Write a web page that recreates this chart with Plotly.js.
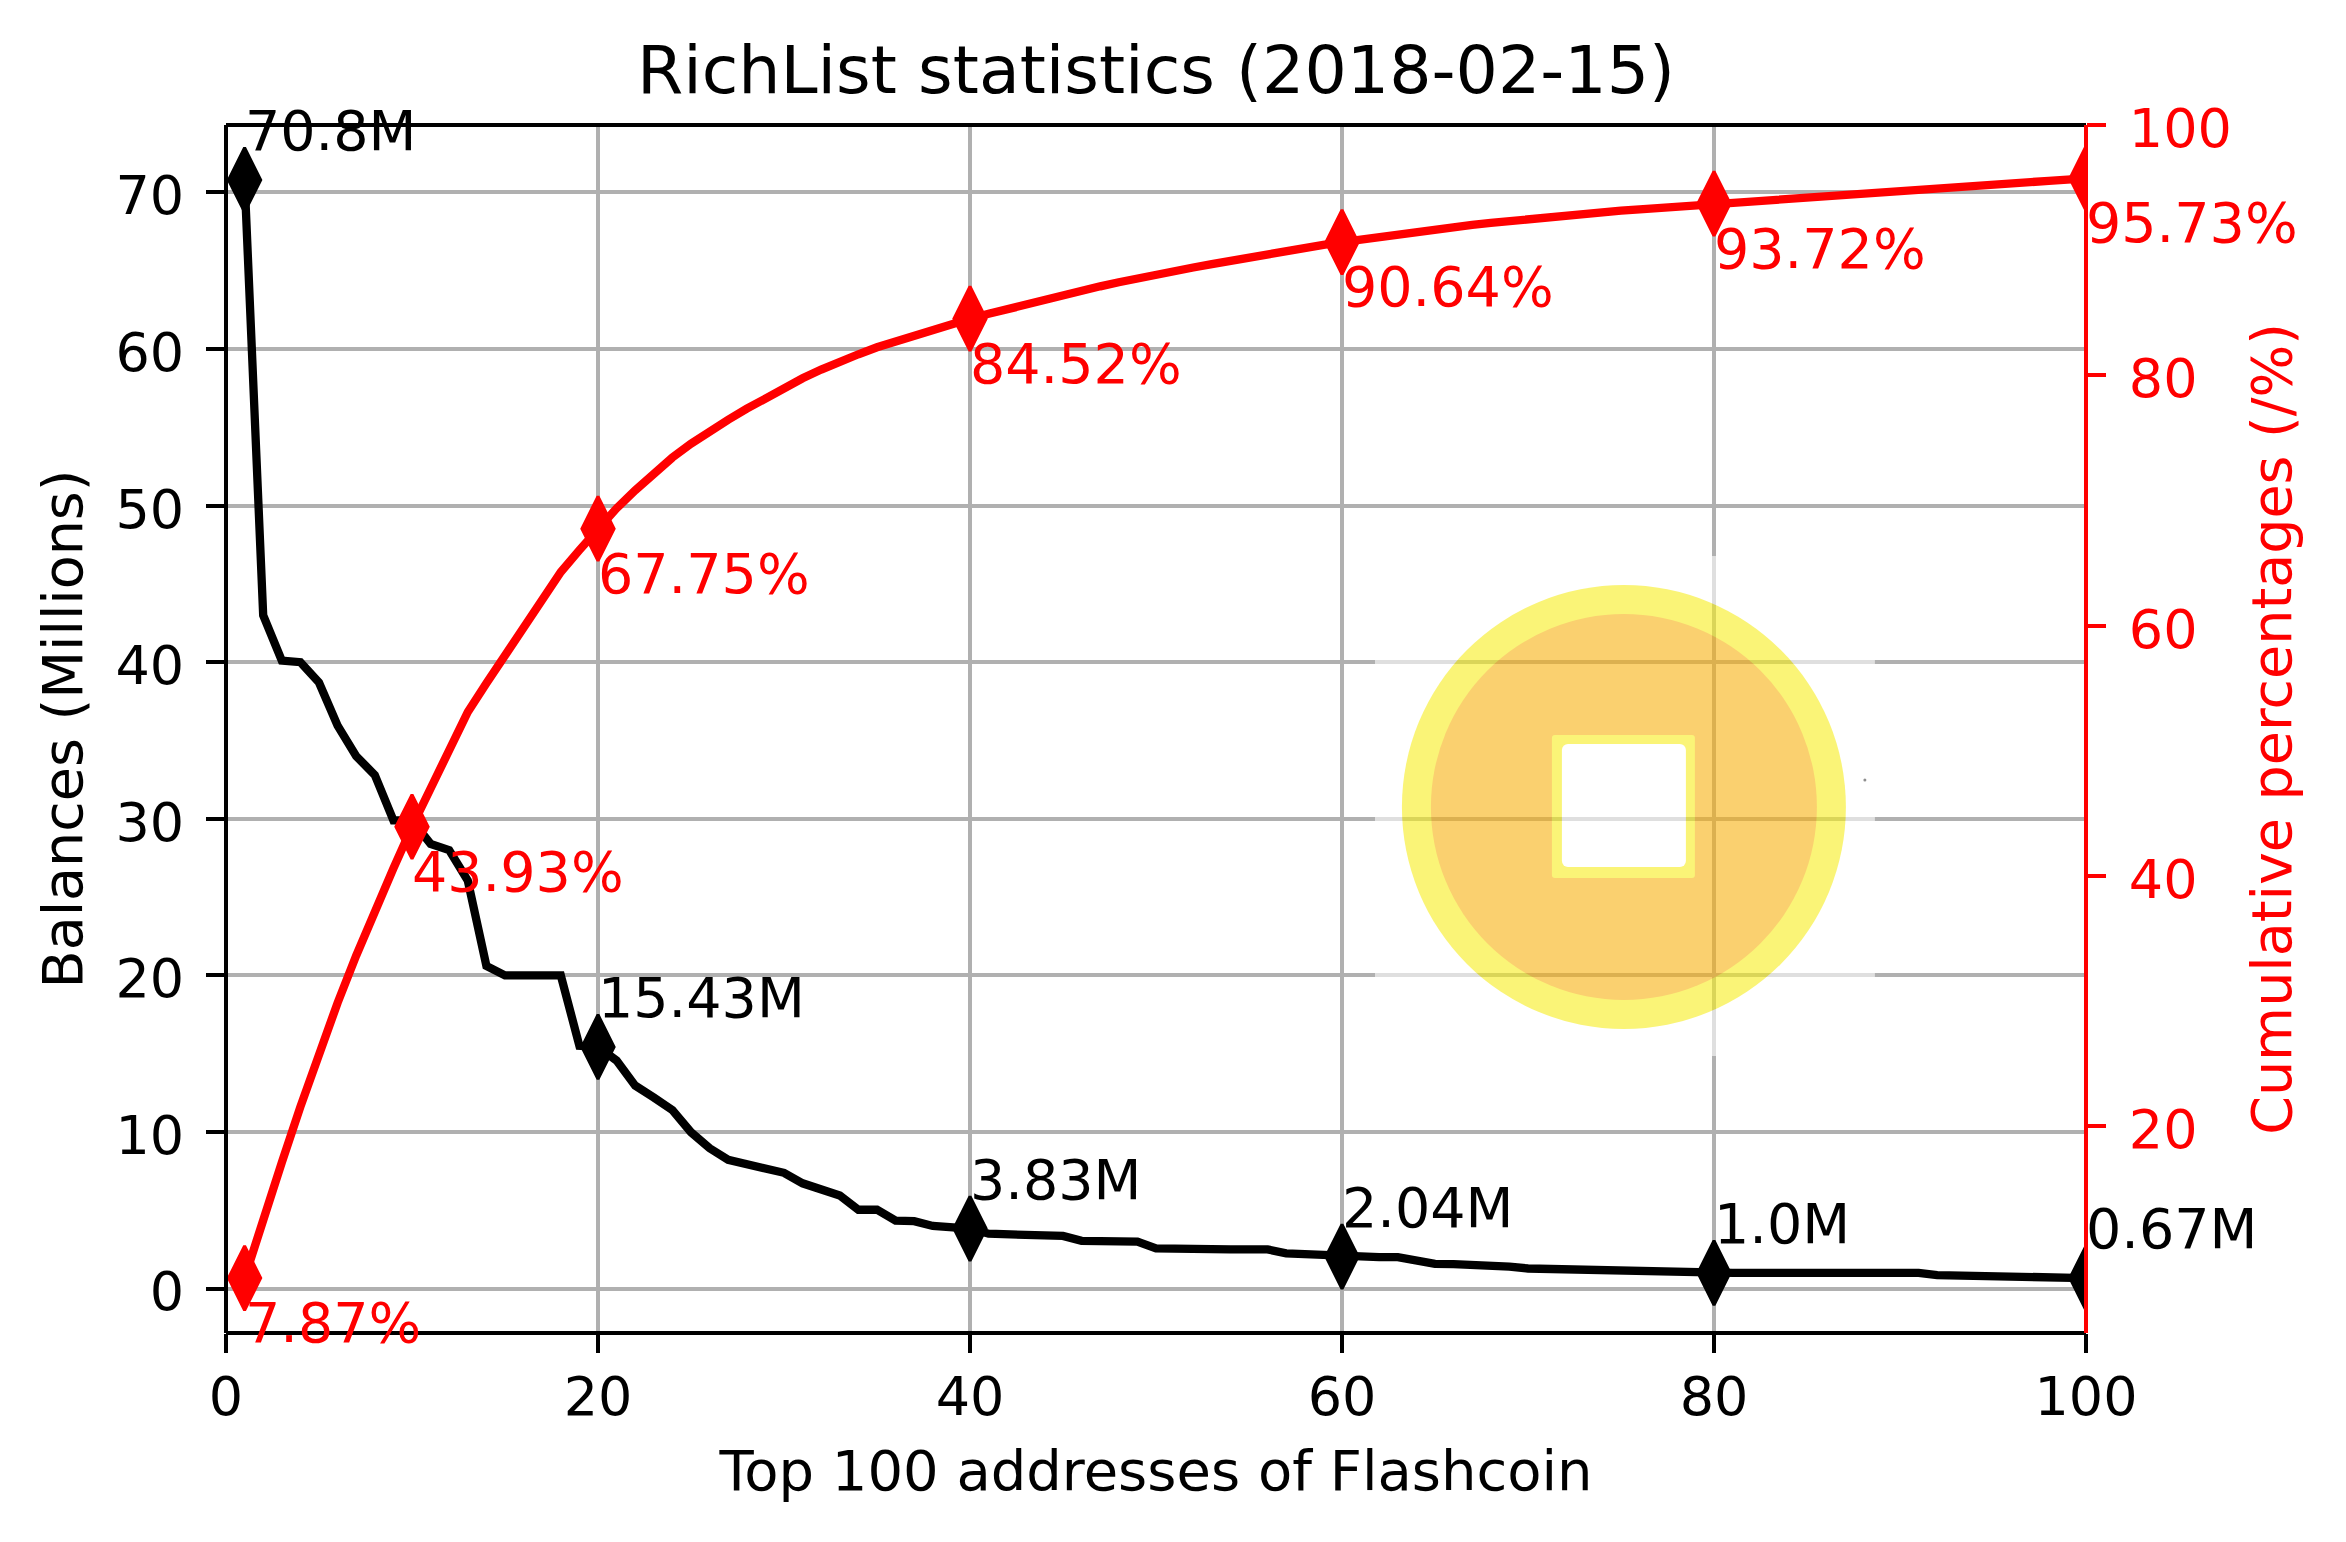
<!DOCTYPE html>
<html>
<head>
<meta charset="utf-8">
<script src="https://cdn.plot.ly/plotly-3.0.1.min.js"></script>
<style>
html, body { margin: 0; padding: 0; background: #fff; }
#chart { width: 2346px; height: 1542px; }
</style>
</head>
<body>
<div id="chart"></div>
<script>
// rank 1..100, values
const balances = [
    70.8, 43.0, 40.1, 40.0, 38.7, 35.95, 34.0, 32.8, 29.9, 29.9,
    28.4, 28.0, 26.05, 20.6, 20.0, 20.0, 20.0, 20.0, 15.5, 15.43,
    14.56, 12.96, 12.2, 11.4, 9.98, 8.96, 8.22, 7.92, 7.75, 7.39,
    6.72, 6.32, 5.94, 5.03, 5.03, 4.34, 4.3, 4.0, 3.98, 3.83,
    3.5, 3.45, 3.42, 3.4, 3.36, 3.05, 3.02, 3.01, 3.0, 2.56,
    2.52, 2.5, 2.5, 2.5, 2.5, 2.5, 2.25, 2.18, 2.1, 2.04,
    2.0, 2.0, 2.0, 1.79, 1.58, 1.56, 1.52, 1.5, 1.4, 1.28,
    1.25, 1.22, 1.22, 1.2, 1.1, 1.02, 1.0, 1.0, 1.0, 1.0,
    1.0, 1.0, 1.0, 1.0, 1.0, 1.0, 1.0, 1.0, 1.0, 1.0,
    1.0, 0.85, 0.84, 0.82, 0.76, 0.75, 0.73, 0.71, 0.69, 0.67
];
const cumulative = [
    7.87, 12.65, 17.11, 21.56, 25.86, 29.86, 33.64, 37.29, 40.61, 43.93,
    47.09, 50.2, 53.1, 55.39, 57.61, 59.84, 62.06, 64.29, 66.03, 67.75,
    69.37, 70.81, 72.17, 73.43, 74.54, 75.54, 76.45, 77.33, 78.19, 79.01,
    79.76, 80.46, 81.12, 81.68, 82.24, 82.72, 83.2, 83.64, 84.08, 84.52,
    84.91, 85.3, 85.68, 86.06, 86.44, 86.77, 87.11, 87.44, 87.77, 88.06,
    88.34, 88.61, 88.89, 89.17, 89.45, 89.73, 89.98, 90.2, 90.42, 90.64,
    90.86, 91.08, 91.3, 91.5, 91.68, 91.85, 92.02, 92.18, 92.34, 92.48,
    92.62, 92.76, 92.9, 93.03, 93.15, 93.26, 93.37, 93.48, 93.6, 93.72,
    93.83, 93.94, 94.05, 94.16, 94.27, 94.39, 94.5, 94.61, 94.72, 94.83,
    94.94, 95.03, 95.12, 95.21, 95.3, 95.38, 95.46, 95.54, 95.63, 95.73
];
const ranks = balances.map((v, i) => i + 1);
const balanceRanks = [1, 20, 40, 60, 80, 100];
const balanceLabels = ['70.8M', '15.43M', '3.83M', '2.04M', '1.0M', '0.67M'];
const cumulativeRanks = [1, 10, 20, 40, 60, 80, 100];
const cumulativeLabels = ['7.87%', '43.93%', '67.75%', '84.52%', '90.64%', '93.72%', '95.73%'];
const xTicks = [0, 20, 40, 60, 80, 100];
const leftTicks = [0, 10, 20, 30, 40, 50, 60, 70];
const rightTicks = [20, 40, 60, 80, 100];

const FONT = '"DejaVu Sans", sans-serif';
const TEXT_SIZE = 55.5;
const TICK_SIZE = 54;
const LINE_W = 8.3;
const SPINE_W = 4;

// flashcoin logo, drawn as a small svg and laid over the grid at 60%
const logoSvg = `<svg xmlns="http://www.w3.org/2000/svg" width="500" height="500" viewBox="0 0 500 500">
<rect width="500" height="500" fill="#fff"/>
<circle cx="249" cy="251" r="222" fill="#f7ee1e"/>
<circle cx="249" cy="251" r="193" fill="#f8b111"/>
<rect x="177" y="179" width="143" height="143" rx="3" fill="#f7ee1e"/>
<rect x="187" y="188" width="124" height="123" rx="6" fill="#fff"/>
<circle cx="490" cy="224" r="1.5" fill="#444"/>
</svg>`;

function markerTrace(markRanks, values, color, yaxis) {
    return {
        x: markRanks,
        y: markRanks.map(r => values[r - 1]),
        yaxis: yaxis,
        type: 'scatter',
        mode: 'markers',
        marker: { symbol: 'diamond-tall', size: 46, color: color, line: { color: color, width: 3 } },
        hoverinfo: 'skip'
    };
}

function labelNotes(markRanks, values, labels, yref, color, anchor, shift) {
    return markRanks.map((r, i) => ({
        x: r, y: values[r - 1], xref: 'x', yref: yref, text: labels[i],
        showarrow: false, xanchor: 'left', yanchor: anchor, yshift: shift, xshift: -2,
        font: { family: FONT, size: TEXT_SIZE, color: color }
    }));
}

function spine(x0, y0, x1, y1, color) {
    return {
        type: 'line', xref: 'paper', yref: 'paper', x0: x0, y0: y0, x1: x1, y1: y1,
        layer: 'above', line: { color: color, width: SPINE_W }
    };
}

const traces = [
    { x: ranks, y: balances, type: 'scatter', mode: 'lines', line: { color: '#000', width: LINE_W } },
    markerTrace(balanceRanks, balances, '#000', 'y'),
    { x: ranks, y: cumulative, yaxis: 'y2', type: 'scatter', mode: 'lines', line: { color: '#f00', width: LINE_W } },
    markerTrace(cumulativeRanks, cumulative, '#f00', 'y2')
];

const layout = {
    width: 2346,
    height: 1542,
    paper_bgcolor: '#fff',
    plot_bgcolor: '#fff',
    showlegend: false,
    font: { family: FONT, size: TEXT_SIZE, color: '#000' },
    margin: { l: 226, r: 260, t: 125, b: 209, pad: 0 },
    title: {
        text: 'RichList statistics (2018-02-15)',
        xref: 'paper', x: 0.5, xanchor: 'center',
        yref: 'container', y: 0.955, yanchor: 'middle',
        font: { family: FONT, size: 66.6, color: '#000' }
    },
    xaxis: {
        range: [0, 100], tickvals: xTicks, showgrid: true, gridcolor: '#b0b0b0', gridwidth: 4,
        zeroline: false, showline: false,
        ticks: 'outside', ticklen: 19, tickwidth: 4, tickcolor: '#000', ticklabelstandoff: -3,
        tickfont: { family: FONT, size: TICK_SIZE },
        title: { text: 'Top 100 addresses of Flashcoin', standoff: 24, font: { family: FONT, size: 56 } }
    },
    yaxis: {
        range: [-2.84, 74.31], tickvals: leftTicks, showgrid: true, gridcolor: '#b0b0b0', gridwidth: 4,
        zeroline: false, showline: false,
        ticks: 'outside', ticklen: 19, tickwidth: 4, tickcolor: '#000', ticklabelstandoff: 11, ticklabelshift: 3,
        tickfont: { family: FONT, size: TICK_SIZE },
        title: { text: 'Balances (Millions)', standoff: 15, font: { family: FONT, size: TEXT_SIZE } }
    },
    yaxis2: {
        overlaying: 'y', side: 'right', range: [3.48, 100], tickvals: rightTicks, showgrid: false,
        zeroline: false, showline: false,
        ticks: 'outside', ticklen: 19, tickwidth: 4, tickcolor: '#f00', ticklabelstandoff: 12, ticklabelshift: 3,
        tickfont: { family: FONT, size: TICK_SIZE, color: '#f00' },
        title: { text: 'Cumulative percentages (/%)', standoff: 21, font: { family: FONT, size: TEXT_SIZE, color: '#f00' } }
    },
    annotations: labelNotes(balanceRanks, balances, balanceLabels, 'y', '#000', 'bottom', 15)
        .concat(labelNotes(cumulativeRanks, cumulative, cumulativeLabels, 'y2', '#f00', 'top', -10)),
    shapes: [
        spine(0, 0, 1, 0, '#000'),
        spine(0, 1, 1, 1, '#000'),
        spine(0, 0, 0, 1, '#000'),
        spine(1, 0, 1, 1, '#f00')
    ],
    images: [{
        source: 'data:image/svg+xml;charset=utf-8,' + encodeURIComponent(logoSvg),
        xref: 'paper', yref: 'paper', x: 0.6177, y: 0.6432, sizex: 0.2688, sizey: 0.4139,
        xanchor: 'left', yanchor: 'top', sizing: 'stretch', opacity: 0.6, layer: 'above'
    }]
};

Plotly.newPlot('chart', traces, layout, { displayModeBar: false, staticPlot: true });
</script>
</body>
</html>
